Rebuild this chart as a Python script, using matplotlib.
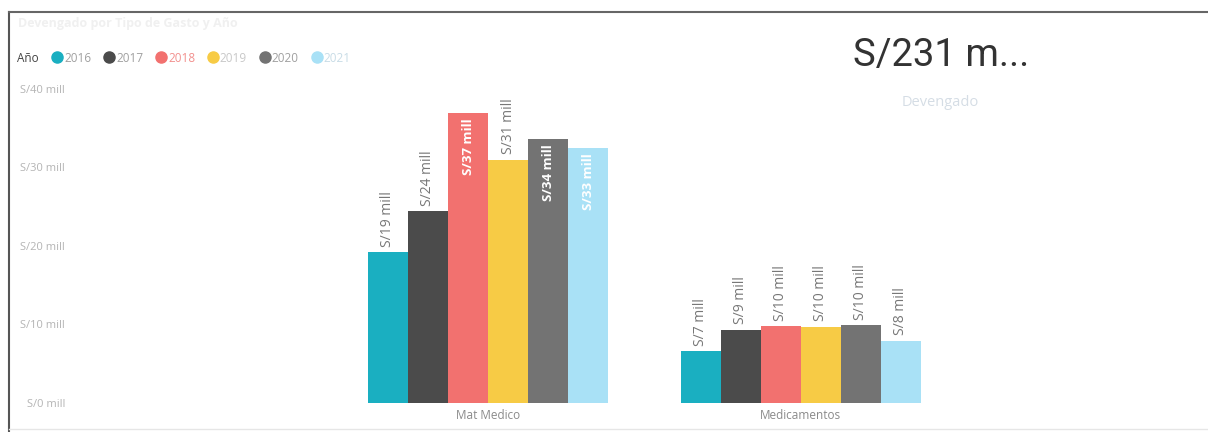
import numpy as np
import matplotlib
matplotlib.use("Agg")
import matplotlib.pyplot as plt
from matplotlib.lines import Line2D

plt.rcParams['font.family'] = ['Open Sans', 'DejaVu Sans']

categories = ["Mat Medico", "Medicamentos"]
years = ["2016", "2017", "2018", "2019", "2020", "2021"]
# millones de soles
values = {
    "2016": [19.2, 6.6],
    "2017": [24.4, 9.3],
    "2018": [36.9, 9.8],
    "2019": [31.0, 9.7],
    "2020": [33.6, 9.9],
    "2021": [32.5, 7.9],
}
labels = {
    "2016": ["S/19 mill", "S/7 mill"],
    "2017": ["S/24 mill", "S/9 mill"],
    "2018": ["S/37 mill", "S/10 mill"],
    "2019": ["S/31 mill", "S/10 mill"],
    "2020": ["S/34 mill", "S/10 mill"],
    "2021": ["S/33 mill", "S/8 mill"],
}
inside = {"2018": [True, False], "2020": [True, False], "2021": [True, False]}
colors = ["#1AAFC1", "#4B4B4B", "#F2716F", "#F7CB45", "#737373", "#A9E1F6"]
legend_txt_colors = ["#a0a0a0", "#a0a0a0", "#F2908E", "#c8c8c8", "#a0a0a0", "#c8dce6"]

yticks = [0, 10, 20, 30, 40]
ytick_labels = ["S/0 mill", "S/10 mill", "S/20 mill", "S/30 mill", "S/40 mill"]

total_label = "S/231 m..."
card_label = "Devengado"
title = "Devengado por Tipo de Gasto y Año"

W, H = 1208, 432
fig = plt.figure(figsize=(W / 100, H / 100), dpi=100)
ax = fig.add_axes([72 / W, 29 / H, (1195 - 72) / W, (403 - 89) / H])

x = np.arange(len(categories))
w = 0.128
for i, yr in enumerate(years):
    pos = x + (i - 2.5) * w
    bars = ax.bar(pos, values[yr], width=w, color=colors[i], linewidth=0)
    for j, b in enumerate(bars):
        h = b.get_height()
        cx = b.get_x() + b.get_width() / 2
        if inside.get(yr, [False, False])[j]:
            ax.text(cx, h - 0.7, labels[yr][j], rotation=90, ha="center", va="top",
                    fontsize=9.5, color="white", fontweight="bold")
        else:
            ax.text(cx, h + 0.7, labels[yr][j], rotation=90, ha="center", va="bottom",
                    fontsize=10, color="#777777", clip_on=False)

ax.set_xlim(-1.33, 2.26)
ax.set_ylim(0, 40)
ax.set_yticks(yticks)
ax.set_yticklabels(ytick_labels, fontsize=8, color="#b4b4b4")
ax.set_xticks(x)
ax.set_xticklabels(categories, fontsize=8.5, color="#8a8a8a")
ax.tick_params(axis="both", length=0)
ax.tick_params(axis="y", pad=5)
ax.tick_params(axis="x", pad=4)
for s in ax.spines.values():
    s.set_visible(False)

# leyenda
fig.text(17 / W, 1 - 58 / H, "Año", fontsize=8.5, color="#444444", va="center")
handles = [Line2D([], [], marker="o", linestyle="", markersize=8, color=c) for c in colors]
leg = fig.legend(handles, years, loc="center left", bbox_to_anchor=(50 / W, 1 - 58 / H),
                 ncol=6, frameon=False, handletextpad=0.0, columnspacing=0.9,
                 fontsize=8.5, handlelength=1.2, borderpad=0, borderaxespad=0)
for t, c in zip(leg.get_texts(), legend_txt_colors):
    t.set_color(c)

# tarjeta
fig.text(853 / W, 1 - 55 / H, total_label, fontsize=27.5, color="#333333", va="center",
         family=["Roboto", "DejaVu Sans"])
fig.text(940 / W, 1 - 102 / H, card_label, fontsize=10.5, color="#d5dde5",
         va="center", ha="center")

# titulo tenue
fig.text(18 / W, 1 - 24 / H, title, fontsize=9, color="#f0f0f0", va="center",
         fontweight="bold")

# marco
fig.add_artist(Line2D([9 / W, 9 / W], [0, 1 - 12 / H], color="#555555", lw=1.5))
fig.add_artist(Line2D([9 / W, 1], [1 - 12 / H, 1 - 12 / H], color="#666666", lw=1.5))
fig.add_artist(Line2D([9 / W, 1], [3 / H, 3 / H], color="#e6e6e6", lw=1))

fig.savefig("out.png", dpi=100)
